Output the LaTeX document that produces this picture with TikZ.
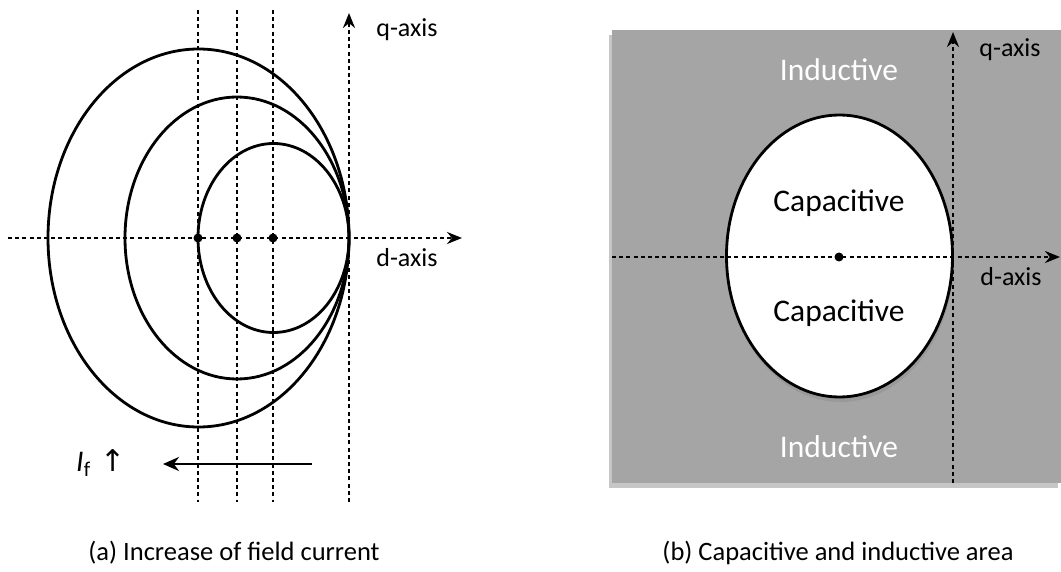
\documentclass[tikz,border=0pt]{standalone}
\usepackage{fontspec}
\setmainfont{Carlito}
\newfontfamily\arrowfont{DejaVu Sans}
\usetikzlibrary{arrows.meta,shadows}
\definecolor{areagray}{RGB}{165,165,165}

\begin{document}
\begin{tikzpicture}[x = 1pt, y = -1pt,
  dotline/.style = {line width = 2.6pt, dash pattern = on 4pt off 3.2pt},
  axisline/.style = {dotline, -{Stealth[length = 15pt, width = 12pt]}},
  locus/.style = {line width = 2.8pt},
  axislabel/.style = {font = \fontsize{26}{30}\selectfont},
  arealabel/.style = {font = \fontsize{31.5}{36}\selectfont},
  caption/.style = {font = \fontsize{26.5}{30}\selectfont}]
\useasboundingbox (0, 0) rectangle (1061, 572);
% (a) Circles
\draw[locus](198.5, 238) ellipse [x radius = 150.5, y radius = 189];
\draw[locus](237, 238) ellipse [x radius = 112, y radius = 141];
\draw[locus](273.5, 238) ellipse [x radius = 75.5, y radius = 94.5];
% (a) Vertical lines
\foreach \name/\x in {va/198, vb/237, vc/273} {
  \coordinate (\name top) at (\x, 10);
  \coordinate (\name bot) at (\x, 502);
  \draw[dotline](\name top) -- (\name bot);
}
% (a) Axes
\coordinate (da0) at (8, 238);
\coordinate (da1) at (462, 238);
\coordinate (qa0) at (349, 502);
\coordinate (qa1) at (349, 13);
\draw[axisline](da0) -- (da1);
\draw[axisline](qa0) -- (qa1);
\node[axislabel] (qlabela) at (407, 30) {q-axis};
\node[axislabel] (dlabela) at (407, 258) {d-axis};
% (a) Centres
\fill(198, 238) circle (4.5pt);
\fill(237, 238) circle (4.5pt);
\fill(273, 238) circle (4.5pt);
% (a) Field current
\coordinate (if0) at (312, 464);
\coordinate (if1) at (163, 464);
\draw[line width = 2.8pt, -{Stealth[length = 16pt, width = 14pt]}](if0) -- (if1);
\node[font = \fontsize{30}{34}\selectfont] (iflabel) at (101, 463)
  {\textit{I}\raisebox{-0.3ex}{\fontsize{21}{21}\selectfont f}\hspace{0.35em}{\arrowfont ↑}};
\node[caption] (capa) at (234, 553) {(a) Increase of field current};
% (b) Area
\fill[areagray, drop shadow = {shadow xshift = -3pt, shadow yshift = -5pt, opacity = 0.45}]
  (612, 30) rectangle (1061, 483);
\draw[locus, fill = white, drop shadow = {shadow xshift = 1pt, shadow yshift = -5pt, opacity = 0.3}]
  (839.5, 256) ellipse [x radius = 113, y radius = 141];
% (b) Axes
\coordinate (db0) at (612, 257);
\coordinate (db1) at (1060, 257);
\coordinate (qb0) at (953, 483);
\coordinate (qb1) at (953, 32);
\draw[axisline](db0) -- (db1);
\draw[axisline](qb0) -- (qb1);
\fill(839, 257) circle (4.5pt);
\node[axislabel] (qlabelb) at (1010, 50) {q-axis};
\node[axislabel] (dlabelb) at (1011, 277) {d-axis};
% (b) Labels
\node[arealabel, white] (indtop) at (839, 70) {Inductive};
\node[arealabel] (captop) at (839, 203) {Capacitive};
\node[arealabel] (capbot) at (839, 313) {Capacitive};
\node[arealabel, white] (indbot) at (839, 447) {Inductive};
\node[caption] (capb) at (838, 553) {(b) Capacitive and inductive area};
\end{tikzpicture}
\end{document}
